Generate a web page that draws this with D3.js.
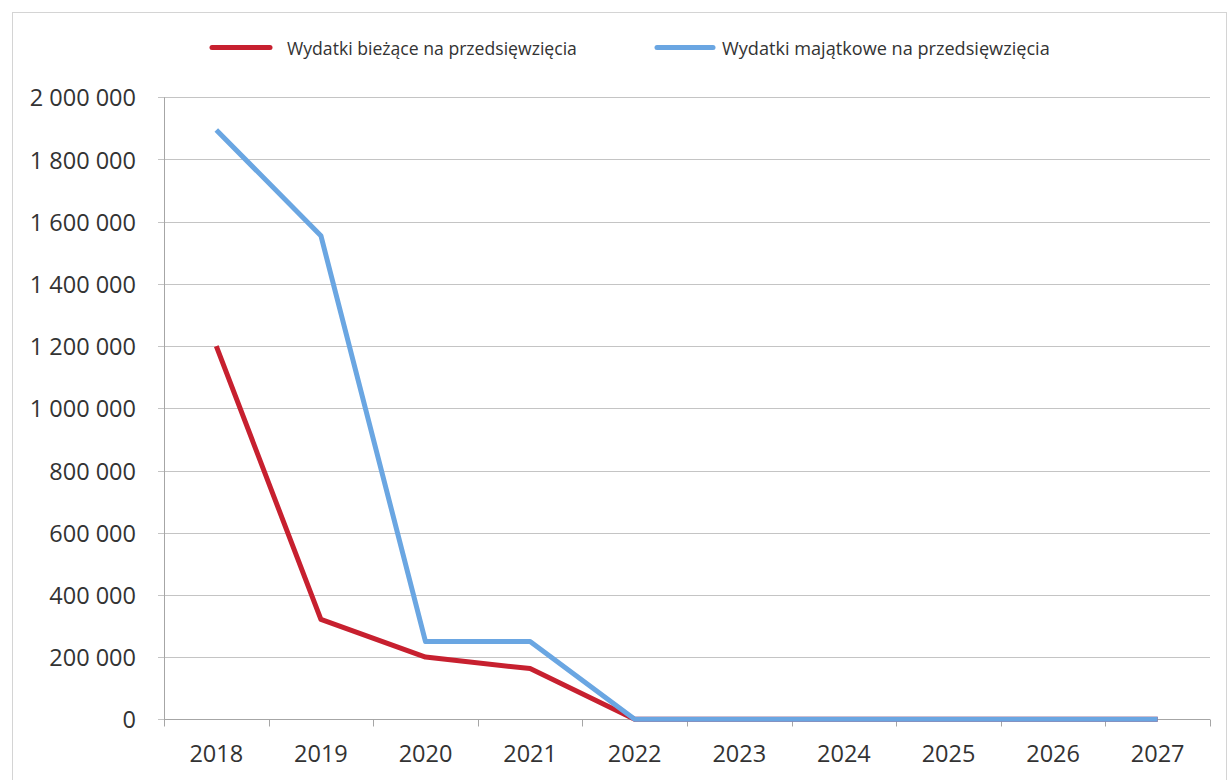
<!DOCTYPE html>
<html>
<head>
<meta charset="utf-8">
<script src="https://cdn.jsdelivr.net/npm/d3@7"></script>
<style>
  html, body { margin: 0; padding: 0; background: #fff; }
  svg { display: block; }
  text { font-family: "Open Sans", "DejaVu Sans", sans-serif; fill: #333; }
</style>
</head>
<body>
<svg id="chart" width="1232" height="780"></svg>
<script>
const years = ["2018","2019","2020","2021","2022","2023","2024","2025","2026","2027"];
const seriesNames = ["Wydatki bieżące na przedsięwzięcia", "Wydatki majątkowe na przedsięwzięcia"];
const biezace = [1200000, 321000, 200000, 163000, 0, 0, 0, 0, 0, 0];
const majatkowe = [1895000, 1555000, 250000, 250000, 0, 0, 0, 0, 0, 0];
const yTicks = [0, 200000, 400000, 600000, 800000, 1000000, 1200000, 1400000, 1600000, 1800000, 2000000];
const colors = ["#c7202f", "#6aa6e2"];

const svg = d3.select("#chart");
const plotLeft = 164, plotRight = 1210, plotTop = 97.3, plotBottom = 719.3;

// frame
svg.append("rect").attr("x", 12.5).attr("y", 12.5).attr("width", 1214).attr("height", 800)
  .attr("fill", "none").attr("stroke", "#d4d4d4").attr("stroke-width", 1);

const x = d3.scaleBand().domain(years).range([plotLeft, plotRight]).padding(0);
const y = d3.scaleLinear().domain([0, 2000000]).range([plotBottom, plotTop]);

const fmt = v => d3.format(",")(v).replace(/,/g, " ");

// gridlines
svg.append("g").selectAll("line").data(yTicks).join("line")
  .attr("x1", plotLeft - 6).attr("x2", plotRight)
  .attr("y1", d => Math.round(y(d)) + 0.5).attr("y2", d => Math.round(y(d)) + 0.5)
  .attr("stroke", "#c4c4c4").attr("stroke-width", 1);

// y axis line
svg.append("line").attr("x1", plotLeft + 0.5).attr("x2", plotLeft + 0.5)
  .attr("y1", y(2000000)).attr("y2", y(0))
  .attr("stroke", "#a6a6a6").attr("stroke-width", 1);

// y labels
svg.append("g").selectAll("text").data(yTicks).join("text")
  .attr("x", 136).attr("y", d => y(d))
  .attr("text-anchor", "end").attr("dominant-baseline", "central")
  .style("font-size", "23.5px").text(d => fmt(d));

// x axis
const xAxis = svg.append("g").attr("transform", `translate(0,${Math.round(plotBottom) + 0.5})`);
xAxis.append("line").attr("x1", plotLeft).attr("x2", plotRight).attr("stroke", "#a6a6a6");
const bounds = years.map(d => x(d)).concat([plotRight]);
xAxis.selectAll("line.tick").data(bounds).join("line").attr("class", "tick")
  .attr("x1", d => Math.round(d) + 0.5).attr("x2", d => Math.round(d) + 0.5)
  .attr("y1", 0).attr("y2", 7).attr("stroke", "#a6a6a6");
xAxis.selectAll("text").data(years).join("text")
  .attr("x", d => x(d) + x.bandwidth() / 2).attr("y", 42)
  .attr("text-anchor", "middle")
  .style("font-size", "23.5px").text(d => d);

// lines
const line = d3.line().x((d, i) => x(years[i]) + x.bandwidth() / 2).y(d => y(d));
[biezace, majatkowe].forEach((s, i) => {
  svg.append("path").datum(s).attr("d", line)
    .attr("fill", "none").attr("stroke", colors[i]).attr("stroke-width", 5)
    .attr("stroke-linejoin", "round").attr("stroke-linecap", "butt");
});

// legend
const legendItems = [
  { name: seriesNames[0], color: colors[0], x1: 212, x2: 270, tx: 287, w: 290 },
  { name: seriesNames[1], color: colors[1], x1: 657, x2: 713, tx: 722, w: 328 }
];
legendItems.forEach(it => {
  svg.append("line").attr("x1", it.x1).attr("x2", it.x2).attr("y1", 47.5).attr("y2", 47.5)
    .attr("stroke", it.color).attr("stroke-width", 5).attr("stroke-linecap", "round");
  const t = svg.append("text").attr("x", it.tx).attr("y", 47.5)
    .attr("dominant-baseline", "central").style("font-size", "16px").text(it.name);
  const len = t.node().getComputedTextLength();
  t.style("font-size", (16 * it.w / len).toFixed(2) + "px");
});
</script>
</body>
</html>
